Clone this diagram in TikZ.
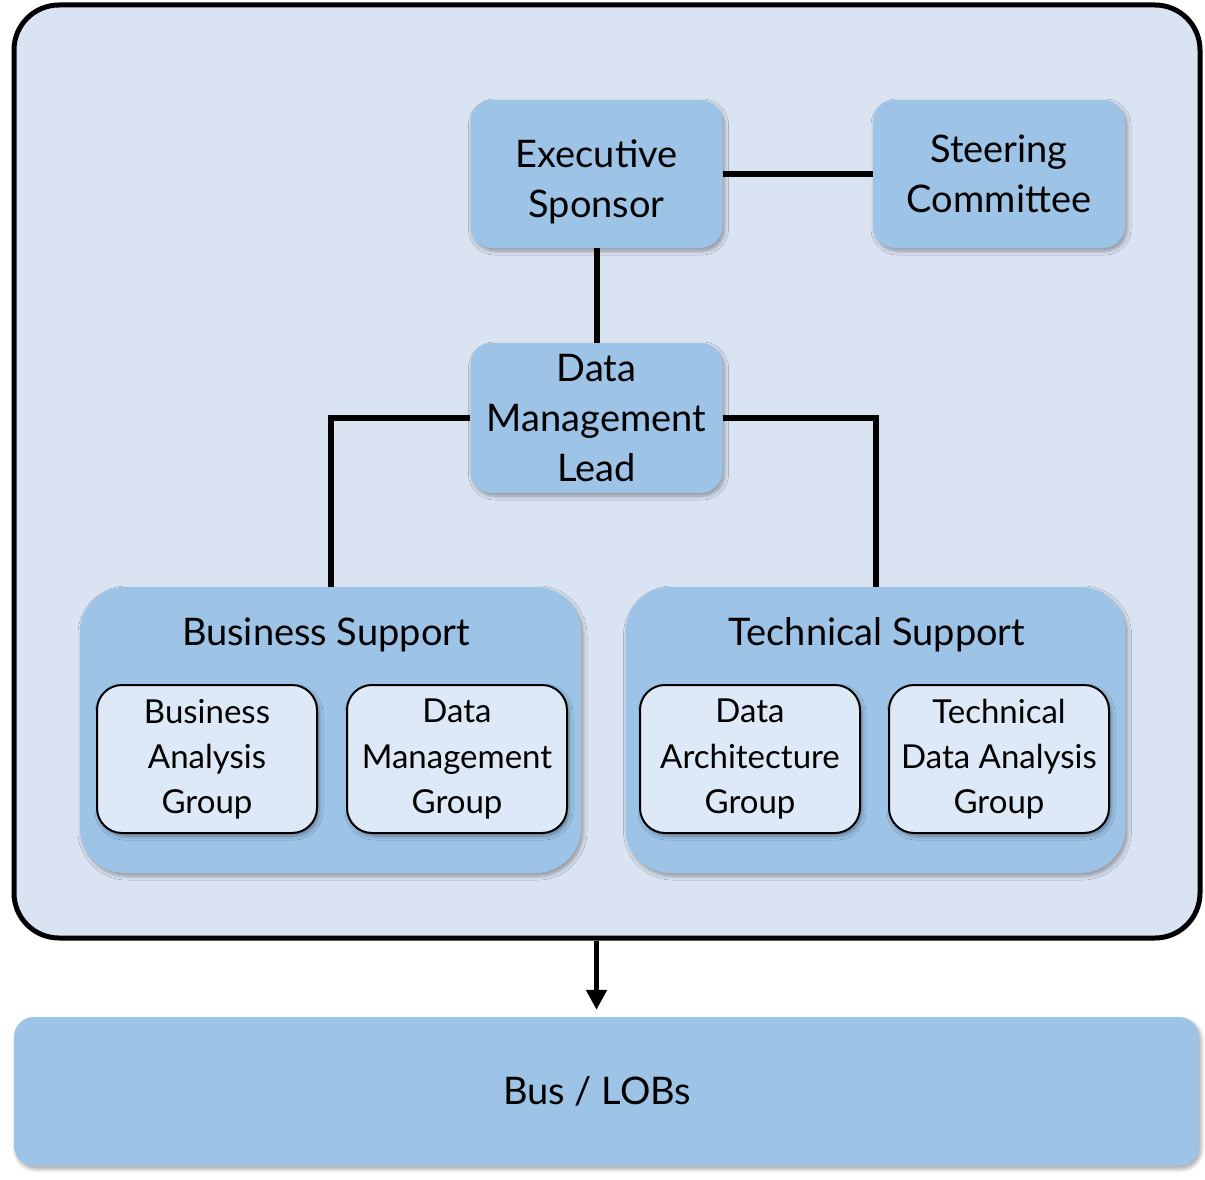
\documentclass[tikz,border=0pt]{standalone}
\usepackage{fontspec}
\setmainfont{Lato}
\usetikzlibrary{shadows.blur,arrows.meta}
\definecolor{framefill}{RGB}{218,227,242}
\definecolor{boxblue}{RGB}{157,195,230}
\definecolor{innerfill}{RGB}{222,233,247}
\begin{document}
\begin{tikzpicture}[x=1pt,y=-1pt,
  shadowed/.style={blur shadow={shadow xshift=2pt, shadow yshift=-3pt, shadow blur steps=6, shadow blur radius=4pt, shadow opacity=35}},
  bluebox/.style={shadowed, rounded corners=22pt, fill=boxblue, align=center, inner sep=0pt,
    minimum width=252pt, minimum height=148pt, font=\fontsize{38}{50}\selectfont},
  groupbox/.style={shadowed, rounded corners=45pt, fill=boxblue, inner sep=0pt,
    minimum width=500pt, minimum height=286pt},
  titletext/.style={font=\fontsize{38}{50}\selectfont, inner sep=0pt},
  innerbox/.style={shadowed, draw=black, line width=2pt, rounded corners=25pt, fill=innerfill, align=center,
    inner sep=0pt, minimum width=220pt, minimum height=148pt, font=\fontsize{33}{45}\selectfont},
  conn/.style={draw=black, line width=6pt},
]
\useasboundingbox (0,0) rectangle (1205,1180);
\node[draw=black, line width=5pt, rounded corners=45pt, fill=framefill, minimum width=1186pt, minimum height=933pt, inner sep=0pt] (frame) at (607,471.5) {};

\node[bluebox] (es) at (596.5,174) {\rule{0pt}{44pt}Executive\\Sponsor};
\node[bluebox] (sc) at (999,174) {Steering\\Committee};
\node[bluebox, minimum height=150pt] (dml) at (596.5,418) {Data\\Management\\Lead};

\node[groupbox, minimum width=501pt] (bs) at (330.5,730) {};
\node[groupbox] (ts) at (875.5,730) {};
\node[titletext] (bst) at (326,635) {Business Support};
\node[titletext] (tst) at (877,635) {Technical Support};

\node[innerbox] (bag) at (207,759) {Business\\Analysis\\Group};
\node[innerbox] (dmg) at (457,759) {Data\\Management\\Group};
\node[innerbox] (dag) at (750,759) {Data\\Architecture\\Group};
\node[innerbox] (tdag) at (999,759) {Technical\\Data Analysis\\Group};

\node[shadowed, rounded corners=20pt, fill=boxblue, minimum width=1185pt, minimum height=149pt, inner sep=0pt, font=\fontsize{38}{50}\selectfont] (bus) at (606.5,1091.5) {\hspace*{-19pt}Bus / LOBs};

\draw[conn] (es.east) -- (sc.west);
\draw[conn] (es.south) -- (dml.north);
\draw[conn] (dml.west) -| (bs.north);
\draw[conn] (dml.east) -| (ts.north);
\draw[conn, line width=5.5pt, -{Triangle[width=20pt,length=20pt]}, shorten >=7pt] (es.south |- frame.south) -- (es.south |- bus.north);
\end{tikzpicture}
\end{document}
